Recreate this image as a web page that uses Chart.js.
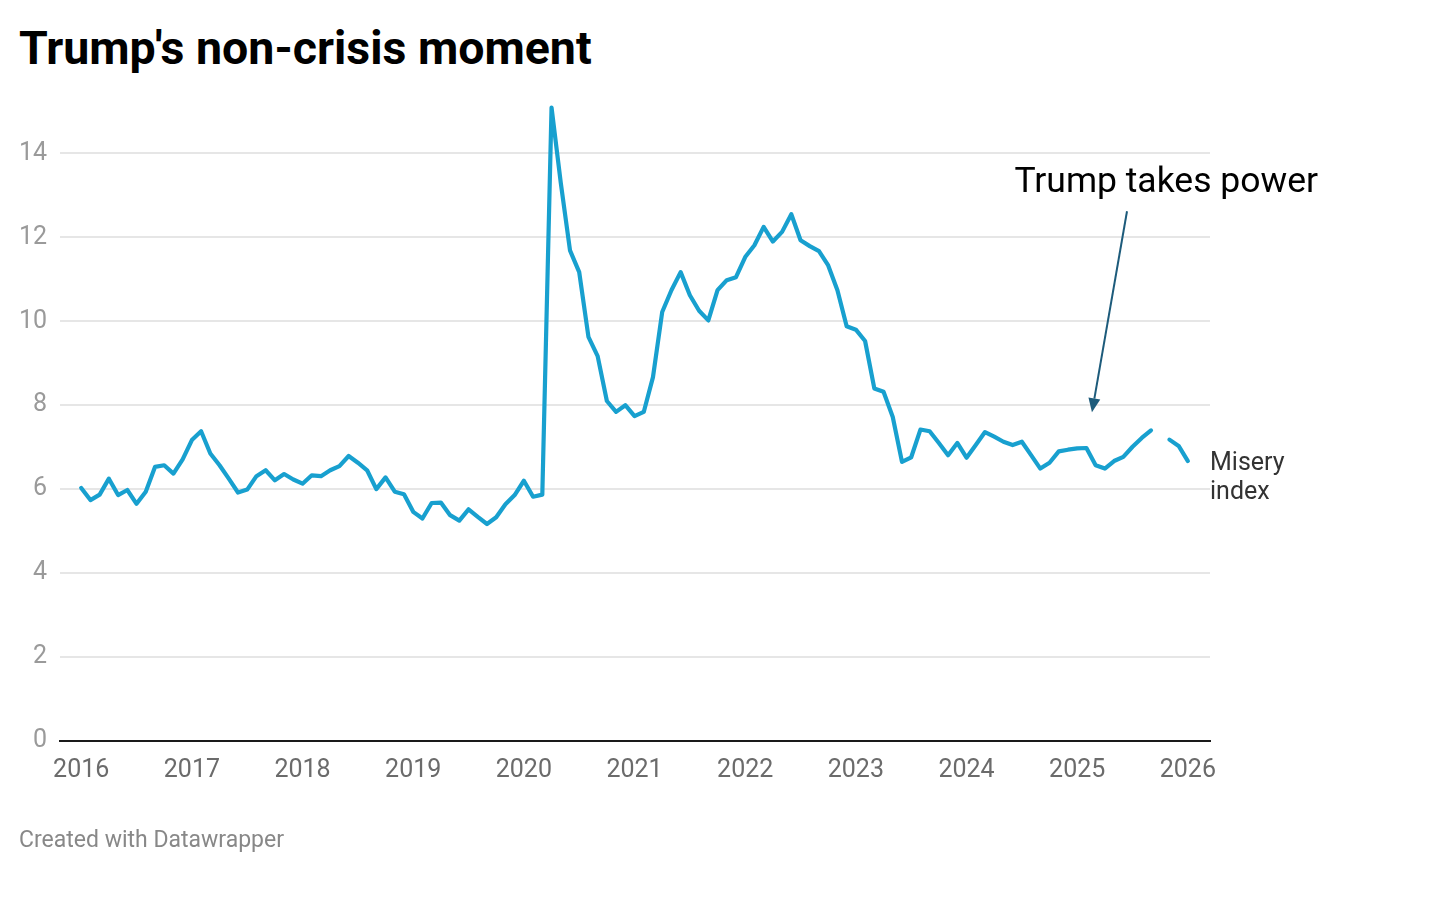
<!DOCTYPE html>
<html>
<head>
<meta charset="utf-8">
<title>Trump's non-crisis moment</title>
<script src="https://cdn.jsdelivr.net/npm/chart.js@4.4.1/dist/chart.umd.min.js"></script>
<style>
  html, body { margin: 0; padding: 0; background: #fff; }
  body { width: 1432px; height: 904px; position: relative; overflow: hidden; font-family: Roboto, sans-serif; }
  #titulo { position: absolute; left: 19px; top: 25px; margin: 0; font-size: 46.5px; line-height: 1; font-weight: 700; color: #000; }
  #pie { position: absolute; left: 19px; top: 828px; font-size: 23px; line-height: 1; color: #888; }
  #wrap { position: absolute; left: 0; top: 0; width: 1432px; height: 904px; }
</style>
</head>
<body>
<h1 id="titulo">Trump's non-crisis moment</h1>
<div id="wrap"><canvas id="grafico"></canvas></div>
<div id="pie">Created with Datawrapper</div>

<script>
// Etiquetas del eje x (un tick cada enero)
const yearLabels = ['2016', '2017', '2018', '2019', '2020', '2021', '2022', '2023', '2024', '2025', '2026'];

// Ticks del eje y
const yTicks = [0, 2, 4, 6, 8, 10, 12, 14];

// Índice de miseria mensual, enero 2016 -> enero 2026 (octubre 2025 sin dato)
const miseryIndex = [
  6.03, 5.74, 5.87, 6.25, 5.86, 5.98, 5.65, 5.94, 6.53, 6.57, 6.37, 6.71,   // 2016
  7.17, 7.38, 6.85, 6.57, 6.25, 5.92, 5.99, 6.31, 6.45, 6.21, 6.36, 6.23,   // 2017
  6.13, 6.33, 6.31, 6.45, 6.55, 6.79, 6.63, 6.45, 6.00, 6.28, 5.94, 5.88,   // 2018
  5.46, 5.30, 5.67, 5.68, 5.38, 5.25, 5.52, 5.34, 5.17, 5.33, 5.64, 5.86,   // 2019
  6.20, 5.82, 5.87, 15.09, 13.30, 11.69, 11.17, 9.63, 9.17, 8.10, 7.84, 8.00, // 2020
  7.74, 7.84, 8.67, 10.22, 10.74, 11.17, 10.62, 10.25, 10.02, 10.74, 10.98, 11.05, // 2021
  11.53, 11.81, 12.25, 11.90, 12.13, 12.55, 11.93, 11.79, 11.67, 11.33, 10.74, 9.88, // 2022
  9.80, 9.53, 8.40, 8.32, 7.72, 6.65, 6.76, 7.42, 7.38, 7.10, 6.81, 7.10,   // 2023
  6.75, 7.05, 7.36, 7.25, 7.13, 7.05, 7.13, 6.81, 6.49, 6.63, 6.90, 6.94,   // 2024
  6.97, 6.98, 6.57, 6.49, 6.67, 6.77, 7.01, 7.22, 7.40, null, 7.18, 7.03,   // 2025
  6.67                                                                      // 2026
];

const LINE_COLOR = '#18a0cf';
const ARROW_COLOR = '#1d5b7b';

// Anotaciones: texto "Trump takes power", flecha y etiqueta de la serie
const anotaciones = {
  id: 'anotaciones',
  afterDatasetsDraw(chart) {
    const { ctx, scales: { x, y } } = chart;
    ctx.save();

    // texto
    ctx.font = '35.5px Roboto, sans-serif';
    ctx.fillStyle = '#000';
    ctx.textAlign = 'center';
    ctx.textBaseline = 'alphabetic';
    ctx.fillText('Trump takes power', x.getPixelForValue(117.65), y.getPixelForValue(13.08));

    // flecha
    const x0 = x.getPixelForValue(113.4), y0 = y.getPixelForValue(12.62);
    const x1 = x.getPixelForValue(109.6), y1 = y.getPixelForValue(7.83);
    const ang = Math.atan2(y1 - y0, x1 - x0);
    const len = 14, half = 6;
    const bx = x1 - len * Math.cos(ang), by = y1 - len * Math.sin(ang);
    ctx.strokeStyle = ARROW_COLOR;
    ctx.lineWidth = 2;
    ctx.beginPath();
    ctx.moveTo(x0, y0);
    ctx.lineTo(bx, by);
    ctx.stroke();
    ctx.fillStyle = ARROW_COLOR;
    ctx.beginPath();
    ctx.moveTo(x1, y1);
    ctx.lineTo(bx + half * Math.sin(ang), by - half * Math.cos(ang));
    ctx.lineTo(bx - half * Math.sin(ang), by + half * Math.cos(ang));
    ctx.closePath();
    ctx.fill();

    // etiqueta de la serie, junto al último punto
    const last = miseryIndex.length - 1;
    const ly = y.getPixelForValue(miseryIndex[last]) + 3;
    ctx.font = '25px Roboto, sans-serif';
    ctx.fillStyle = '#333';
    ctx.textAlign = 'left';
    ctx.textBaseline = 'middle';
    ctx.fillText('Misery', chart.chartArea.right, ly);
    ctx.fillText('index', chart.chartArea.right, ly + 29);

    ctx.restore();
  }
};

function renderGrafico() {
  const ctx = document.getElementById('grafico').getContext('2d');

  new Chart(ctx, {
    type: 'line',
    data: {
      datasets: [{
        label: 'Misery index',
        data: miseryIndex.map((v, i) => ({ x: i, y: v })),
        borderColor: LINE_COLOR,
        borderWidth: 4.2,
        pointRadius: 0,
        tension: 0,
        spanGaps: false,
        borderJoinStyle: 'round',
        borderCapStyle: 'round'
      }]
    },
    options: {
      responsive: true,
      maintainAspectRatio: false,
      animation: false,
      layout: { padding: { left: 0, right: 222, top: 103, bottom: 113 } },
      plugins: {
        legend: { display: false },
        tooltip: { enabled: false }
      },
      scales: {
        x: {
          type: 'linear',
          min: -2.3,
          max: 122.4,
          afterBuildTicks: (scale) => { scale.ticks = yearLabels.map((_, i) => ({ value: i * 12 })); },
          afterFit: (scale) => { scale.height = 50; },
          grid: { display: false, drawTicks: false },
          border: { display: true, color: '#1a1a1a', width: 2 },
          ticks: {
            autoSkip: false,
            maxRotation: 0,
            padding: 15,
            color: '#6b6b6b',
            font: { family: 'Roboto', size: 25 },
            callback: (value, index) => yearLabels[index]
          }
        },
        y: {
          min: 0,
          max: 15.2,
          afterBuildTicks: (scale) => { scale.ticks = yTicks.map(v => ({ value: v })); },
          afterFit: (scale) => { scale.width = 60; },
          grid: {
            drawTicks: false,
            lineWidth: 2,
            color: (c) => c.tick && c.tick.value === 0 ? 'rgba(0,0,0,0)' : '#e6e6e6'
          },
          border: { display: false },
          ticks: {
            padding: 13,
            color: '#9a9a9a',
            font: { family: 'Roboto', size: 25 },
            callback: (value) => value
          }
        }
      }
    },
    plugins: [anotaciones]
  });
}

document.addEventListener('DOMContentLoaded', renderGrafico);
</script>
</body>
</html>
